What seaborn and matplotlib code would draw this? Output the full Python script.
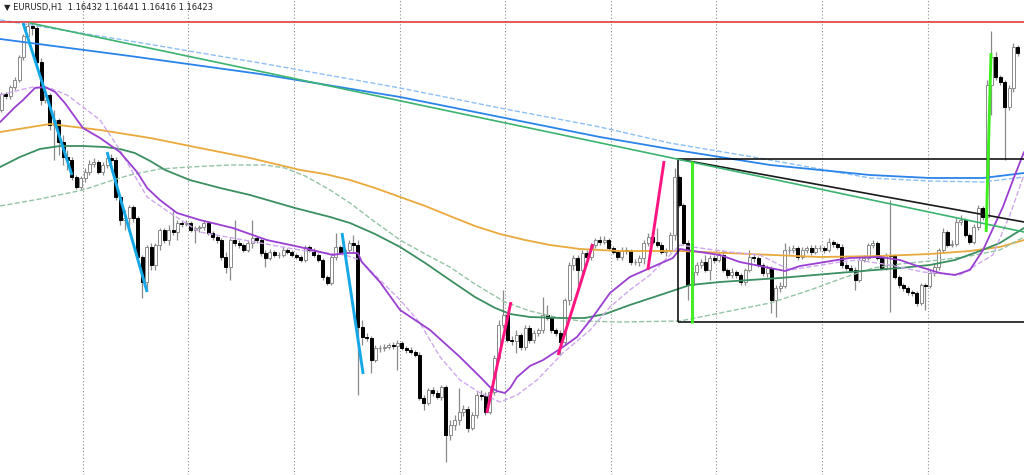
import numpy as np
import matplotlib
matplotlib.use("Agg")
import matplotlib.pyplot as plt
import matplotlib.patches as patches
import seaborn as sns

sns.set_style("white")

# EURUSD H1 candles, prices in pips (x 0.0001), open = previous close
first_open = 11613
highs = [
    11622, 11622, 11625.5, 11629.5, 11640.5, 11651, 11657, 11657, 11655.5, 11639,
    11624, 11621.5, 11613, 11609, 11600.5, 11593, 11589.5, 11580.5, 11580, 11584,
    11588, 11589, 11588, 11587, 11590.5, 11591, 11589.5, 11570.5, 11563, 11565.5,
    11565.5, 11560, 11540.5, 11545.5, 11546.5, 11546.5, 11554, 11554, 11555.5, 11563,
    11558, 11557.5, 11558, 11557.5, 11555, 11555.5, 11558, 11557.5, 11552.5, 11550.5,
    11549, 11542, 11549, 11558, 11548, 11546.5, 11548, 11558, 11550, 11549,
    11543, 11543.5, 11543, 11542, 11544.5, 11544, 11543, 11541.5, 11540.5, 11545.5,
    11545.5, 11544, 11541.5, 11539, 11530.5, 11540.5, 11551.5, 11545.5, 11544, 11548,
    11550.5, 11548, 11508, 11501.5, 11500, 11495.5, 11495.5, 11496, 11496.5, 11497,
    11498, 11497.5, 11495, 11494.5, 11493, 11492, 11470.5, 11474, 11474.5, 11473,
    11475.5, 11475.5, 11458, 11460.5, 11474, 11465.5, 11465, 11462, 11472, 11473,
    11472, 11474, 11490.5, 11508, 11523, 11511.5, 11500, 11503, 11501.5, 11505.5,
    11505.5, 11503, 11504, 11519.5, 11515.5, 11510.5, 11504, 11503, 11519, 11537,
    11540.5, 11540.5, 11543, 11543, 11546.5, 11549, 11550, 11550, 11549, 11545,
    11543, 11544.5, 11544.5, 11543.5, 11538.5, 11540.5,
    11548, 11551.5, 11551.5, 11554, 11547,
    11544, 11552, 11584, 11580.5, 11566.5, 11548, 11535.5, 11537, 11538.5, 11540.5,
    11540.5, 11540.5, 11542, 11543, 11534, 11534, 11533, 11531.5, 11534, 11543,
    11541, 11540, 11536.5, 11535.5, 11535, 11525.5, 11527, 11546.5, 11545, 11545.5,
    11545, 11544.5, 11545, 11545.5, 11545.5, 11545.5, 11545, 11549, 11548, 11547,
    11546, 11537, 11535.5, 11534.5, 11539.5, 11540.5, 11546.5, 11548, 11547.5,
    11540, 11541.5, 11568, 11541, 11530.5, 11526.5, 11525, 11523, 11522.5, 11526.5,
    11526.5, 11533, 11536, 11544, 11554, 11553, 11548, 11559, 11560.5, 11559,
    11551.5, 11556, 11565.5, 11565, 11628, 11652.5, 11642, 11630.5, 11628, 11625.5, 11646.5, 11645.5,
]
lows = [
    11612, 11618.5, 11618.5, 11623, 11627, 11638, 11649, 11650.5, 11636, 11615.5,
    11616.5, 11603, 11588, 11590.5, 11585.5, 11583, 11578, 11573.5, 11573, 11577,
    11580.5, 11584.5, 11581, 11580.5, 11584, 11585.5, 11568, 11555.5, 11553, 11554,
    11557, 11538, 11519, 11523, 11533, 11533, 11543, 11546.5, 11545.5, 11550.5,
    11548, 11554.5, 11555, 11552, 11546.5, 11552, 11553, 11550.5, 11548, 11546.5,
    11538, 11531.5, 11528, 11545, 11544, 11542, 11542, 11544, 11546.5, 11540,
    11534.5, 11538, 11539.5, 11539, 11539.5, 11541, 11539.5, 11538.5, 11537, 11537,
    11542, 11539.5, 11537, 11528, 11525.5, 11525.5, 11538, 11541, 11541, 11542,
    11542, 11470.5, 11495.5, 11497.5, 11481.5, 11487, 11492, 11492.5, 11493.5, 11493.5,
    11483, 11493, 11491.5, 11491, 11489.5, 11468, 11463, 11465.5, 11470, 11468.5,
    11468, 11437, 11448, 11453, 11455.5, 11460, 11452, 11453, 11459, 11468,
    11460.5, 11461, 11470.5, 11488, 11504, 11497, 11495.5, 11491.5, 11493, 11493,
    11496.5, 11496.5, 11500, 11501.5, 11508, 11501.5, 11500, 11490.5, 11495.5, 11515.5,
    11533, 11523, 11530.5, 11538, 11538, 11544, 11545.5, 11546, 11543, 11541,
    11538, 11538, 11541, 11535.5, 11535.5, 11535,
    11536, 11545, 11546, 11544.5, 11541,
    11540, 11542, 11548, 11564.5, 11545.5, 11518, 11524, 11530.5, 11534, 11532,
    11528, 11536.5, 11537, 11532, 11529, 11529, 11529, 11525.5, 11525.5, 11532,
    11537, 11534.5, 11530, 11529.5, 11511.5, 11509.5, 11522, 11524, 11541, 11541.5,
    11538, 11538.5, 11541.5, 11540.5, 11541, 11542.5, 11541.5, 11542, 11544.5, 11543.5,
    11534, 11533, 11532, 11523, 11527, 11537, 11538, 11544, 11538,
    11533, 11533, 11512, 11528.5, 11524, 11522.5, 11520.5, 11520, 11515, 11515.5,
    11513, 11524, 11530, 11533, 11542, 11544.5, 11544.5, 11545, 11555.5, 11549.5,
    11546, 11546, 11553, 11558, 11558.5, 11610.5, 11628, 11625.5, 11588, 11613, 11622, 11640,
]
closes = [
    11621, 11620, 11624.5, 11628, 11639.5, 11650, 11655, 11654, 11637, 11618,
    11620.5, 11605.5, 11608, 11597, 11589.5, 11588, 11579.5, 11574.5, 11579, 11582,
    11586, 11587, 11582, 11585.5, 11589, 11588, 11569.5, 11558, 11559, 11564.5,
    11559, 11539.5, 11527, 11544.5, 11535.5, 11545.5, 11553, 11548, 11553, 11552,
    11556.5, 11556, 11556.5, 11553, 11554, 11554.5, 11556.5, 11551.5, 11549.5, 11548,
    11539.5, 11534.5, 11548, 11546.5, 11545.5, 11543, 11546.5, 11549, 11548, 11541.5,
    11539, 11542, 11540.5, 11540.5, 11543, 11542, 11540.5, 11539.5, 11538, 11544.5,
    11543, 11540.5, 11538, 11529.5, 11526.5, 11539.5, 11544.5, 11542, 11543, 11546.5,
    11545.5, 11504.5, 11499.5, 11499, 11488, 11494, 11494, 11494.5, 11495.5, 11495,
    11496.5, 11494, 11493, 11492, 11490.5, 11469, 11466.5, 11473, 11471.5, 11469.5,
    11474.5, 11450.5, 11455.5, 11458, 11462, 11463.5, 11454, 11460.5, 11470.5, 11470,
    11462, 11472, 11489, 11505.5, 11510.5, 11498, 11497.5, 11500.5, 11494.5, 11504,
    11498, 11501.5, 11503, 11510.5, 11509, 11503, 11501.5, 11497, 11518, 11535.5,
    11539, 11533, 11541.5, 11539.5, 11545.5, 11548, 11547, 11548, 11544, 11542,
    11539.5, 11543, 11542.5, 11537, 11537, 11539,
    11546.5, 11549.5, 11547, 11545.5, 11542,
    11543, 11550.5, 11579.5, 11565.5, 11546.5, 11525.5, 11532, 11535.5, 11537, 11533,
    11539, 11538, 11540.5, 11533, 11530.5, 11532, 11530.5, 11527, 11533, 11539.5,
    11539, 11535.5, 11531.5, 11534, 11518, 11524, 11525, 11543, 11543, 11544,
    11539.5, 11543, 11544, 11542, 11544, 11544, 11543, 11547, 11546, 11544.5,
    11535.5, 11534, 11533, 11528, 11538, 11539, 11545.5, 11546.5, 11539,
    11534, 11540.5, 11540, 11529.5, 11525.5, 11524, 11522, 11521.5, 11516.5, 11525.5,
    11525, 11531.5, 11534.5, 11543, 11552, 11545.5, 11546, 11557, 11558, 11550.5,
    11547, 11554.5, 11564, 11559.5, 11625.5, 11639.5, 11629.5, 11627, 11614.5, 11624, 11644.5, 11641.5,
]

# moving averages: bar position -> pips
ma_purple_x = [-0.3, 3.1, 4.9, 7.6, 9.9, 12.2, 14.4, 18.5, 22.4, 26.9, 30.8, 33.1, 36, 39.9,
               45.1, 52.6, 60.3, 67.8, 75.3, 78.1, 81, 81.9, 86, 90.6, 97.4, 104.2, 108.8,
               111, 112.6, 114.4, 115.6, 117.2, 120.1, 123.1, 127.6, 130.8, 134.4, 138.3,
               142.8, 147.4, 152.6, 154.2, 158.7, 163.3, 167.8, 172.4, 178.1, 181.5, 192.8,
               199.7, 204.2, 208.8, 213.3, 216.7, 220.1, 223.1, 227.6, 229.9, 232.4]
ma_purple_y = [11607, 11614.5, 11618, 11624, 11624.5, 11622, 11616.5, 11604, 11599, 11592,
               11582, 11574, 11568, 11561.5, 11558, 11554, 11548, 11544.5, 11540.5, 11541.5,
               11541.5, 11537, 11527, 11513, 11503, 11489.5, 11479.5, 11474.5, 11472.5,
               11471.5, 11474, 11479.5, 11485, 11488, 11494.5, 11499.5, 11509.5, 11521.5,
               11529.5, 11534, 11539, 11543.5, 11542, 11540.5, 11537, 11535, 11532.5, 11535,
               11539, 11539.5, 11538, 11534.5, 11531.5, 11530.5, 11533, 11543, 11564.5,
               11578, 11592]
ma_purple_slow_x = [-0.3, 4.2, 7.2, 11, 14.9, 18.5, 22.4, 26.9, 33.1, 39, 45.1, 58.8, 67.8,
                    78.1, 81.5, 86, 90.6, 95.1, 99.7, 104.2, 108.8, 113.3, 117.2, 121.7,
                    127.6, 133.8, 138.3, 142.8, 147.4, 154.2, 158.7, 165.6, 172.4, 179.2,
                    190.6, 194.4, 201.9, 209.4, 217.8, 225.3, 229.2, 232.4]
ma_purple_slow_y = [11620.5, 11623, 11624.5, 11624, 11620.5, 11614.5, 11608, 11593, 11569.5,
                    11560.5, 11552, 11546.5, 11543, 11540.5, 11538, 11528, 11518, 11506.5,
                    11489.5, 11478, 11471.5, 11467, 11470.5, 11478, 11491.5, 11503, 11514.5,
                    11523, 11530.5, 11545.5, 11544, 11542, 11540.5, 11533, 11537, 11538,
                    11535.5, 11532, 11530.5, 11540.5, 11560.5, 11580.5]
ma_orange_x = [-0.3, 11, 22.4, 33.8, 45.1, 56.5, 67.9, 73.5, 79.2, 84.9, 90.6, 96.3, 101.9,
               107.6, 113.3, 119, 124.7, 131.5, 140.6, 154.2, 170.1, 186, 199.7, 211, 220.1,
               226.9, 232.4]
ma_orange_y = [11602, 11606, 11603, 11599, 11594, 11589, 11583, 11581, 11578, 11574, 11569.5,
               11565, 11560, 11555, 11551, 11548, 11545.5, 11543.5, 11542.5, 11542.5, 11541,
               11539.5, 11540, 11541, 11542.5, 11544.5, 11548]
ma_green_x = [-0.3, 4.2, 8.7, 13.3, 18.5, 23.5, 26.9, 30.3, 33.8, 37.2, 42.8, 49.7, 56.5,
              66.7, 74.7, 79.2, 84.9, 90.6, 96.3, 101.9, 107.6, 112.2, 115.6, 120.1, 126.9,
              132.6, 137.2, 142.8, 149.7, 156.5, 163.3, 176.9, 192.8, 204.2, 211, 216.7,
              222.4, 226.9, 232.4]
ma_green_y = [11584.5, 11589.5, 11593.5, 11595, 11595, 11594.5, 11593.5, 11591.5, 11587.5,
              11583, 11578, 11574, 11570.5, 11564, 11559.5, 11556.5, 11551, 11544.5, 11536.5,
              11528, 11519.5, 11514, 11511, 11509.5, 11509, 11509, 11511, 11515.5, 11520.5,
              11525.5, 11527, 11529, 11532, 11534, 11535.5, 11538, 11542.5, 11546.5, 11554]
ma_green_slow_x = [-0.3, 8.7, 18.5, 24.7, 29.2, 36, 42.8, 51.9, 59.9, 64.4, 69, 74.7, 79.2,
                   84.9, 90.6, 96.3, 101.9, 107.6, 114.4, 120.1, 125.8, 131.5, 140.6, 154.2,
                   163.3, 174.7, 183.8, 190.6, 198.1, 204.2, 213.3, 220.1, 226.9, 232.4]
ma_green_slow_y = [11565, 11568.5, 11573, 11577.5, 11580.5, 11583.5, 11584.5, 11585.5,
                   11585.5, 11584, 11580, 11573, 11566.5, 11557, 11548, 11541, 11534.5, 11526,
                   11517, 11512.5, 11509.5, 11507.5, 11507, 11507.5, 11511.5, 11516.5, 11523,
                   11528.5, 11534, 11536, 11538, 11540, 11543, 11549.5]
ma_blue_x = [-0.3, 29.2, 58.8, 90.6, 113.3, 136, 151.9, 174.7, 197.4, 211, 223.1, 232.4]
ma_blue_y = [11648.5, 11640, 11631, 11619.5, 11609.5, 11599.5, 11593.5, 11585.5, 11580.5,
             11579, 11579, 11581.5]
ma_blue_slow_x = [-0.3, 29.2, 58.8, 90.6, 113.3, 136, 151.9, 170.8, 197.4, 211, 223.1, 232.4]
ma_blue_slow_y = [11658, 11647.5, 11636.5, 11624, 11614, 11604.5, 11596.5, 11589.5, 11579,
                  11577.5, 11577, 11579.5]

# drawn objects: (bar, pips) start and end
resistance = 11657
box = (153.7, 11507, 11588.5)
black_trend = [(153.7, 11588.5), (232.4, 11557)]
green_trend = [(6.5, 11656.5), (232.4, 11552)]
down_swings = [[(4.9, 11656.5), (16, 11580.5)],
               [(24, 11592), (33.1, 11522)],
               [(77.4, 11551.5), (82.2, 11481)]]
up_swings = [[(110.3, 11461.5), (115.8, 11517)],
             [(126.5, 11490.5), (134.4, 11546)],
             [(146.9, 11533), (150.6, 11587.5)]]
breakouts = [[(156.9, 11587.5), (156.9, 11506.5)],
             [(223.8, 11552), (224.9, 11641.5)]]
day_breaks = [18.5, 42.5, 66.5, 90.5, 114.5, 138.5, 162.5, 186.5, 210.5]

P = 10000.0
close = np.array(closes) / P
open_ = np.concatenate([[first_open / P], close[:-1]])
high = np.maximum(np.array(highs) / P, np.maximum(open_, close))
low = np.minimum(np.array(lows) / P, np.minimum(open_, close))
x = np.arange(len(close))
up = close >= open_

fig = plt.figure(figsize=(10.24, 4.75), dpi=100)
ax = fig.add_axes([0, 0, 1, 1])

for b in day_breaks:
    ax.axvline(b, color="#8c8c8c", lw=0.8, ls=(0, (1, 2)), zorder=1)

# candles
ax.vlines(x, low, high, color="#8a8a8a", lw=0.9, zorder=2)
body = np.maximum(np.abs(close - open_), 0.00002)
ax.bar(x[up], body[up], bottom=np.minimum(open_, close)[up], width=0.7,
       color="white", edgecolor="#8a8a8a", lw=0.7, zorder=3)
ax.bar(x[~up], body[~up], bottom=np.minimum(open_, close)[~up], width=0.7,
       color="black", edgecolor="black", lw=0.7, zorder=3)

# moving averages
mas = [
    (ma_blue_slow_x, ma_blue_slow_y, "#8cc0f5", "--", 1.0),
    (ma_blue_x, ma_blue_y, "#2a84ea", "-", 1.3),
    (ma_orange_x, ma_orange_y, "#e9a93c", "-", 1.3),
    (ma_green_slow_x, ma_green_slow_y, "#94c4a6", "--", 1.0),
    (ma_green_x, ma_green_y, "#3b8f60", "-", 1.3),
    (ma_purple_slow_x, ma_purple_slow_y, "#cfa8ee", "--", 1.0),
    (ma_purple_x, ma_purple_y, "#9a3fd2", "-", 1.3),
]
for mx, my, col, ls, lw in mas:
    sns.lineplot(x=mx, y=np.array(my) / P, ax=ax, color=col, linestyle=ls, lw=lw,
                 sort=False, estimator=None, legend=False, zorder=4)

# objects
ax.axhline(resistance / P, color="#e02a2a", lw=1.1, zorder=5)
ax.add_patch(patches.Rectangle((box[0], box[1] / P), 120, (box[2] - box[1]) / P,
                               fill=False, ec="black", lw=1.1, zorder=5))
for seg, col, lw in [(black_trend, "#1a1a1a", 1.2), (green_trend, "#3cb371", 1.2)]:
    ax.plot([seg[0][0], seg[1][0]], [seg[0][1] / P, seg[1][1] / P], color=col, lw=lw, zorder=5)
for group, col in [(down_swings, "#16a8e6"), (up_swings, "#ff1482"), (breakouts, "#3def1f")]:
    for seg in group:
        ax.plot([seg[0][0], seg[1][0]], [seg[0][1] / P, seg[1][1] / P], color=col, lw=2.1,
                solid_capstyle="butt", zorder=6)

ax.set_xlim(-0.34, 232.4)
ax.set_ylim(11430.5 / P, 11668 / P)
ax.set_xticks([])
ax.set_yticks([])
ax.set_xlabel("")
ax.set_ylabel("")
for s in ax.spines.values():
    s.set_visible(False)

fig.text(0.004, 0.993, "\u25bc EURUSD,H1  1.16432 1.16441 1.16416 1.16423",
         fontsize=6, va="top", ha="left", color="#222222")

fig.savefig("out.png", dpi=100)
